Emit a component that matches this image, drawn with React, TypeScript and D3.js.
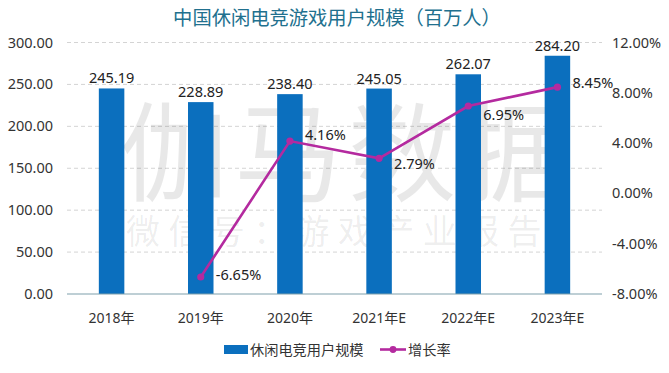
import React from "react";
import * as d3 from "d3";

const categories = ["2018年", "2019年", "2020年", "2021年E", "2022年E", "2023年E"];
const users = [245.19, 228.89, 238.4, 245.05, 262.07, 284.2];
const growth: (number | null)[] = [null, -6.65, 4.16, 2.79, 6.95, 8.45];
const leftTicks = [0, 50, 100, 150, 200, 250, 300];
const rightTicks = [-8, -4, 0, 4, 8, 12];
// label nudges (vertical, px) for growth labels to avoid the line
const rateLabelDy = [0, -2, -6, 6, 9, -4];

const W = 669;
const H = 373;
const plot = { left: 67, right: 602, top: 42.5, bottom: 294 };
const FONT = "'Noto Sans', 'Noto Sans CJK SC', sans-serif";
const CJK = "'Noto Sans CJK SC', sans-serif";
const BAR = "#0B6FBE";
const LINE = "#B42A9F";

export default function App() {
  const x = d3.scaleBand<string>().domain(categories).range([plot.left, plot.right]).paddingInner(0.714).paddingOuter(0.357);
  const yL = d3.scaleLinear().domain([0, 300]).range([plot.bottom, plot.top]);
  const yR = d3.scaleLinear().domain([-8, 12]).range([plot.bottom, plot.top]);
  const cx = (c: string) => (x(c) as number) + x.bandwidth() / 2;

  const pts = categories
    .map((c, i) => ({ c, v: growth[i], i }))
    .filter((d) => d.v !== null) as { c: string; v: number; i: number }[];
  const line = d3
    .line<{ c: string; v: number }>()
    .x((d) => cx(d.c))
    .y((d) => yR(d.v));

  return (
    <svg width={W} height={H} style={{ position: "absolute", left: 0, top: 0, background: "#fff" }}>
      <text x={337} y={25} textAnchor="middle" fontFamily={CJK} fontSize={19.3} fill="#21708E">
        中国休闲电竞游戏用户规模（百万人）
      </text>

      {/* gridlines */}
      {leftTicks.filter((t) => t > 0).map((t) => (
        <line key={t} x1={plot.left} x2={plot.right} y1={yL(t)} y2={yL(t)} stroke="#d4d4d4" strokeDasharray="4,3" strokeWidth={1} />
      ))}

      {/* watermark */}
      <text x={120} y={193} fontFamily={CJK} fontSize={108} letterSpacing={6} fill="#000" fillOpacity={0.09}>
        伽马数据
      </text>
      <text x={126} y={244} fontFamily={CJK} fontSize={34} letterSpacing={8.4} fill="#000" fillOpacity={0.08}>
        微信号：游戏产业报告
      </text>

      {/* bars */}
      {categories.map((c, i) => (
        <rect key={c} x={x(c)} y={yL(users[i])} width={x.bandwidth()} height={plot.bottom - yL(users[i])} fill={BAR} />
      ))}
      {categories.map((c, i) => (
        <text key={c} x={cx(c)} y={yL(users[i]) - 5} textAnchor="middle" fontFamily={FONT} fontSize={14.5} fill="#222">
          {users[i].toFixed(2)}
        </text>
      ))}

      {/* baseline */}
      <line x1={plot.left} x2={plot.right} y1={plot.bottom} y2={plot.bottom} stroke="#7f9fab" strokeWidth={1.2} />

      {/* line */}
      <path d={line(pts) || ""} fill="none" stroke={LINE} strokeWidth={2.6} />
      {pts.map((d) => (
        <circle key={d.c} cx={cx(d.c)} cy={yR(d.v)} r={3.6} fill={LINE} />
      ))}
      {pts.map((d) => (
        <text key={d.c} x={cx(d.c) + 15} y={yR(d.v) + 5 + rateLabelDy[d.i]} fontFamily={FONT} fontSize={14.5} fill="#222">
          {d.v.toFixed(2)}%
        </text>
      ))}

      {/* left axis labels */}
      {leftTicks.map((t) => (
        <text key={t} x={53} y={yL(t) + 5} textAnchor="end" fontFamily={FONT} fontSize={14.5} fill="#333">
          {t.toFixed(2)}
        </text>
      ))}
      {/* right axis labels */}
      {rightTicks.map((t) => (
        <text key={t} x={612} y={yR(t) + 5} fontFamily={FONT} fontSize={14.5} fill="#333">
          {t.toFixed(2)}%
        </text>
      ))}
      {/* x labels */}
      {categories.map((c) => (
        <text key={c} x={cx(c)} y={323} textAnchor="middle" fontFamily={FONT} fontSize={14} fill="#333">
          {c}
        </text>
      ))}

      {/* legend */}
      <rect x={224} y={345} width={24} height={9} fill={BAR} />
      <text x={250} y={355} fontFamily={CJK} fontSize={14.2} fill="#333">休闲电竞用户规模</text>
      <line x1={380} x2={406} y1={349.5} y2={349.5} stroke={LINE} strokeWidth={2.6} />
      <circle cx={393} cy={349.5} r={3.4} fill={LINE} />
      <text x={408} y={355} fontFamily={CJK} fontSize={14.2} fill="#333">增长率</text>
    </svg>
  );
}
